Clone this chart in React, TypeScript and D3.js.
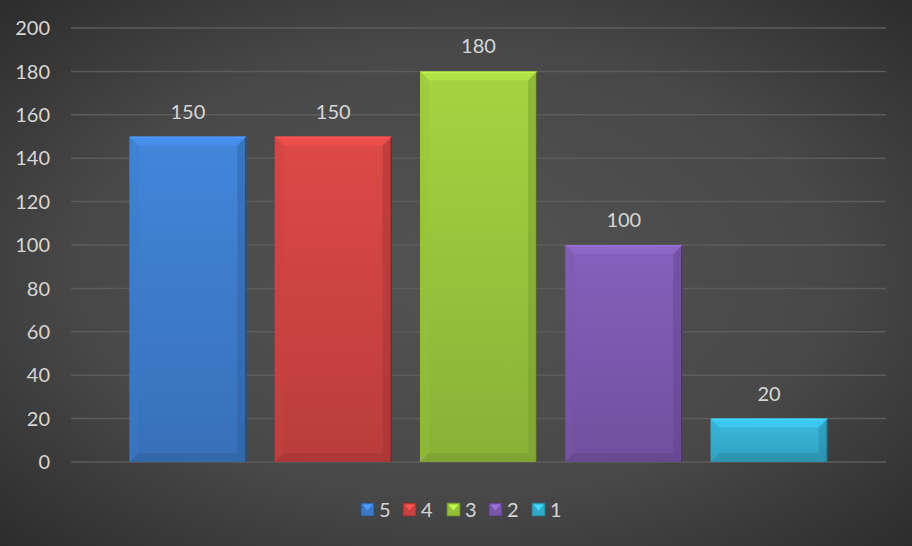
import { useEffect, useRef } from 'react';
import * as d3 from 'd3';

// chart data
const series = ['5', '4', '3', '2', '1'];
const values = [150, 150, 180, 100, 20];
const colors = ['#3f7fd0', '#d24543', '#9bc93e', '#7f5bb3', '#36b2d4'];
const yTicks = [0, 20, 40, 60, 80, 100, 120, 140, 160, 180, 200];

const W = 912;
const H = 546;

export default function App() {
  const svgRef = useRef<SVGSVGElement>(null);

  useEffect(() => {
    if (!svgRef.current) return;
    const svg = d3.select(svgRef.current);
    svg.selectAll('*').remove();

    const left = 71;
    const right = 886;
    const top = 28;
    const bottom = 462;
    const font = 'Lato, sans-serif';
    const textColor = '#d6d6d6';

    const defs = svg.append('defs');

    // background radial gradient
    const bg = defs.append('radialGradient')
      .attr('id', 'bg')
      .attr('cx', '50%').attr('cy', '50%').attr('r', '75%');
    bg.append('stop').attr('offset', '0%').attr('stop-color', '#535353');
    bg.append('stop').attr('offset', '55%').attr('stop-color', '#484848');
    bg.append('stop').attr('offset', '100%').attr('stop-color', '#282828');

    svg.append('rect')
      .attr('width', W).attr('height', H)
      .attr('fill', 'url(#bg)');

    const y = d3.scaleLinear().domain([0, 200]).range([bottom, top]);
    const x = d3.scaleBand<string>()
      .domain(series)
      .range([left, right])
      .paddingInner(0.195)
      .paddingOuter(0.402);

    // gridlines
    svg.append('g')
      .selectAll('line')
      .data(yTicks)
      .join('line')
      .attr('x1', left).attr('x2', right)
      .attr('y1', d => y(d)).attr('y2', d => y(d))
      .attr('stroke', '#5c5c5c')
      .attr('stroke-width', 1.5);

    // y labels
    svg.append('g')
      .selectAll('text')
      .data(yTicks)
      .join('text')
      .attr('x', 50)
      .attr('y', d => y(d))
      .attr('dy', '0.36em')
      .attr('text-anchor', 'end')
      .attr('font-family', font)
      .attr('font-size', '20px')
      .attr('fill', textColor)
      .text(d => d);

    // gradients per bar
    colors.forEach((c, i) => {
      const g = defs.append('linearGradient')
        .attr('id', `bar${i}`)
        .attr('x1', 0).attr('y1', 0).attr('x2', 0).attr('y2', 1);
      g.append('stop').attr('offset', '0%').attr('stop-color', d3.color(c)!.brighter(0.15).formatHex());
      g.append('stop').attr('offset', '100%').attr('stop-color', d3.color(c)!.darker(0.35).formatHex());
    });

    const bev = 9;
    const bars = svg.append('g')
      .selectAll('g')
      .data(series.map((s, i) => ({ s, v: values[i], c: colors[i], i })))
      .join('g');

    bars.each(function (d) {
      const g = d3.select(this);
      const x0 = x(d.s)!;
      const w = x.bandwidth();
      const y0 = y(d.v);
      const y1 = y(0);
      const h = y1 - y0;
      const b = Math.min(bev, h / 2);
      const base = d3.color(d.c)!;

      g.append('rect')
        .attr('x', x0).attr('y', y0)
        .attr('width', w).attr('height', h)
        .attr('fill', `url(#bar${d.i})`);

      // top bevel
      g.append('polygon')
        .attr('points', `${x0},${y0} ${x0 + w},${y0} ${x0 + w - b},${y0 + b} ${x0 + b},${y0 + b}`)
        .attr('fill', base.brighter(0.4).formatHex())
        .attr('opacity', 0.75);
      g.append('line')
        .attr('x1', x0 + 1).attr('x2', x0 + w - 1)
        .attr('y1', y0 + 1).attr('y2', y0 + 1)
        .attr('stroke', base.brighter(0.7).formatHex())
        .attr('stroke-width', 1.5)
        .attr('opacity', 0.6);
      // left bevel
      g.append('polygon')
        .attr('points', `${x0},${y0} ${x0 + b},${y0 + b} ${x0 + b},${y1 - b} ${x0},${y1}`)
        .attr('fill', base.darker(0.1).formatHex())
        .attr('opacity', 0.35);
      // right bevel
      g.append('polygon')
        .attr('points', `${x0 + w},${y0} ${x0 + w - b},${y0 + b} ${x0 + w - b},${y1 - b} ${x0 + w},${y1}`)
        .attr('fill', base.darker(0.8).formatHex())
        .attr('opacity', 0.45);
      // bottom bevel
      g.append('polygon')
        .attr('points', `${x0},${y1} ${x0 + b},${y1 - b} ${x0 + w - b},${y1 - b} ${x0 + w},${y1}`)
        .attr('fill', base.darker(0.9).formatHex())
        .attr('opacity', 0.4);
      // dark right edge
      g.append('line')
        .attr('x1', x0 + w - 0.5).attr('x2', x0 + w - 0.5)
        .attr('y1', y0 + 1).attr('y2', y1)
        .attr('stroke', base.darker(1.8).formatHex())
        .attr('stroke-width', 1.2);

      // data label
      g.append('text')
        .attr('x', x0 + w / 2)
        .attr('y', y0 - 18)
        .attr('text-anchor', 'middle')
        .attr('font-family', font)
        .attr('font-size', '20px')
        .attr('fill', textColor)
        .text(d.v);
    });

    // legend
    const legendX = [361, 403, 447, 489, 532];
    const leg = svg.append('g')
      .selectAll('g')
      .data(series.map((s, i) => ({ s, c: colors[i], lx: legendX[i] })))
      .join('g')
      .attr('transform', d => `translate(${d.lx},503)`);

    leg.append('rect')
      .attr('width', 13).attr('height', 13)
      .attr('fill', d => d3.color(d.c)!.darker(0.15).formatHex())
      .attr('stroke', d => d3.color(d.c)!.darker(1.2).formatHex())
      .attr('stroke-width', 0.8);
    leg.append('polygon')
      .attr('points', '1.5,1.5 11.5,1.5 6.5,7.5')
      .attr('fill', d => d3.color(d.c)!.brighter(0.6).formatHex());
    leg.append('text')
      .attr('x', 18)
      .attr('y', 6.5)
      .attr('dy', '0.36em')
      .attr('font-family', font)
      .attr('font-size', '20px')
      .attr('fill', textColor)
      .text(d => d.s);
  }, []);

  return (
    <svg
      ref={svgRef}
      width={W}
      height={H}
      style={{ position: 'absolute', left: 0, top: 0 }}
    />
  );
}
